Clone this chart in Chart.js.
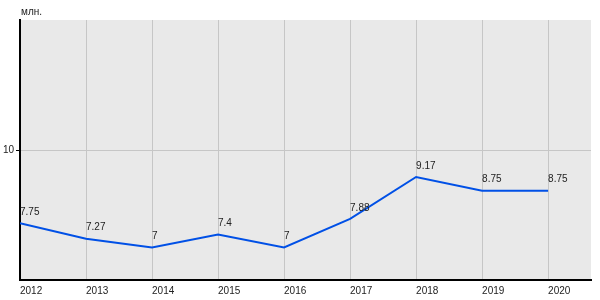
<!DOCTYPE html>
<html>
<head>
<meta charset="utf-8">
<script src="https://cdn.jsdelivr.net/npm/chart.js@4"></script>
<style>
  html, body { margin: 0; padding: 0; background: #fff; }
  #wrap { width: 600px; height: 300px; }
</style>
</head>
<body>
<div id="wrap"><canvas id="chart"></canvas></div>
<script>
// chart data
const years = [2012, 2013, 2014, 2015, 2016, 2017, 2018, 2019, 2020];
const values = [7.75, 7.27, 7, 7.4, 7, 7.88, 9.17, 8.75, 8.75];
const yTicks = [10];
const unitLabel = 'млн.';

const FONT = '"Liberation Sans", Arial, sans-serif';

// plot background + unit caption
const backdrop = {
    id: 'backdrop',
    beforeDraw(chart) {
        const { ctx, chartArea: a } = chart;
        ctx.save();
        ctx.fillStyle = '#e9e9e9';
        ctx.fillRect(a.left, a.top, a.right - a.left, a.bottom - a.top);
        ctx.fillStyle = '#222';
        ctx.font = '10px ' + FONT;
        ctx.textAlign = 'left';
        ctx.textBaseline = 'middle';
        ctx.fillText(unitLabel, a.left + 1, 12);
        ctx.restore();
    }
};

// value labels above each point
const valueLabels = {
    id: 'valueLabels',
    afterDatasetsDraw(chart) {
        const { ctx } = chart;
        const meta = chart.getDatasetMeta(0);
        ctx.save();
        ctx.fillStyle = '#222';
        ctx.font = '10px ' + FONT;
        ctx.textAlign = 'left';
        ctx.textBaseline = 'middle';
        meta.data.forEach((pt, i) => {
            ctx.fillText(String(values[i]), pt.x, pt.y - 11);
        });
        ctx.restore();
    }
};

new Chart(document.getElementById('chart'), {
    type: 'line',
    data: {
        datasets: [{
            data: years.map((y, i) => ({ x: y, y: values[i] })),
            borderColor: '#0050e6',
            borderWidth: 2,
            pointRadius: 0,
            tension: 0,
            fill: false
        }]
    },
    options: {
        responsive: true,
        maintainAspectRatio: false,
        animation: false,
        layout: { padding: { top: 20, right: 9, left: 0, bottom: 0 } },
        plugins: {
            legend: { display: false },
            tooltip: { enabled: false }
        },
        scales: {
            x: {
                type: 'linear',
                min: 2012,
                max: 2020.65,
                afterBuildTicks: s => { s.ticks = years.map(v => ({ value: v })); },
                afterFit: s => { s.height = 20; },
                border: { color: '#000', width: 2 },
                grid: { color: '#c6c6c6', lineWidth: 1, drawTicks: false },
                ticks: {
                    align: 'start',
                    padding: 5,
                    maxRotation: 0,
                    autoSkip: false,
                    color: '#222',
                    font: { family: FONT, size: 10 },
                    callback: v => String(v)
                }
            },
            y: {
                min: 6,
                max: 14,
                afterBuildTicks: s => { s.ticks = yTicks.map(v => ({ value: v })); },
                afterFit: s => { s.width = 20; },
                border: { color: '#000', width: 2 },
                grid: { color: '#c6c6c6', lineWidth: 1, tickColor: '#000', tickLength: 4 },
                ticks: {
                    padding: 2,
                    color: '#222',
                    font: { family: FONT, size: 10 },
                    callback: v => String(v)
                }
            }
        }
    },
    plugins: [backdrop, valueLabels]
});
</script>
</body>
</html>
